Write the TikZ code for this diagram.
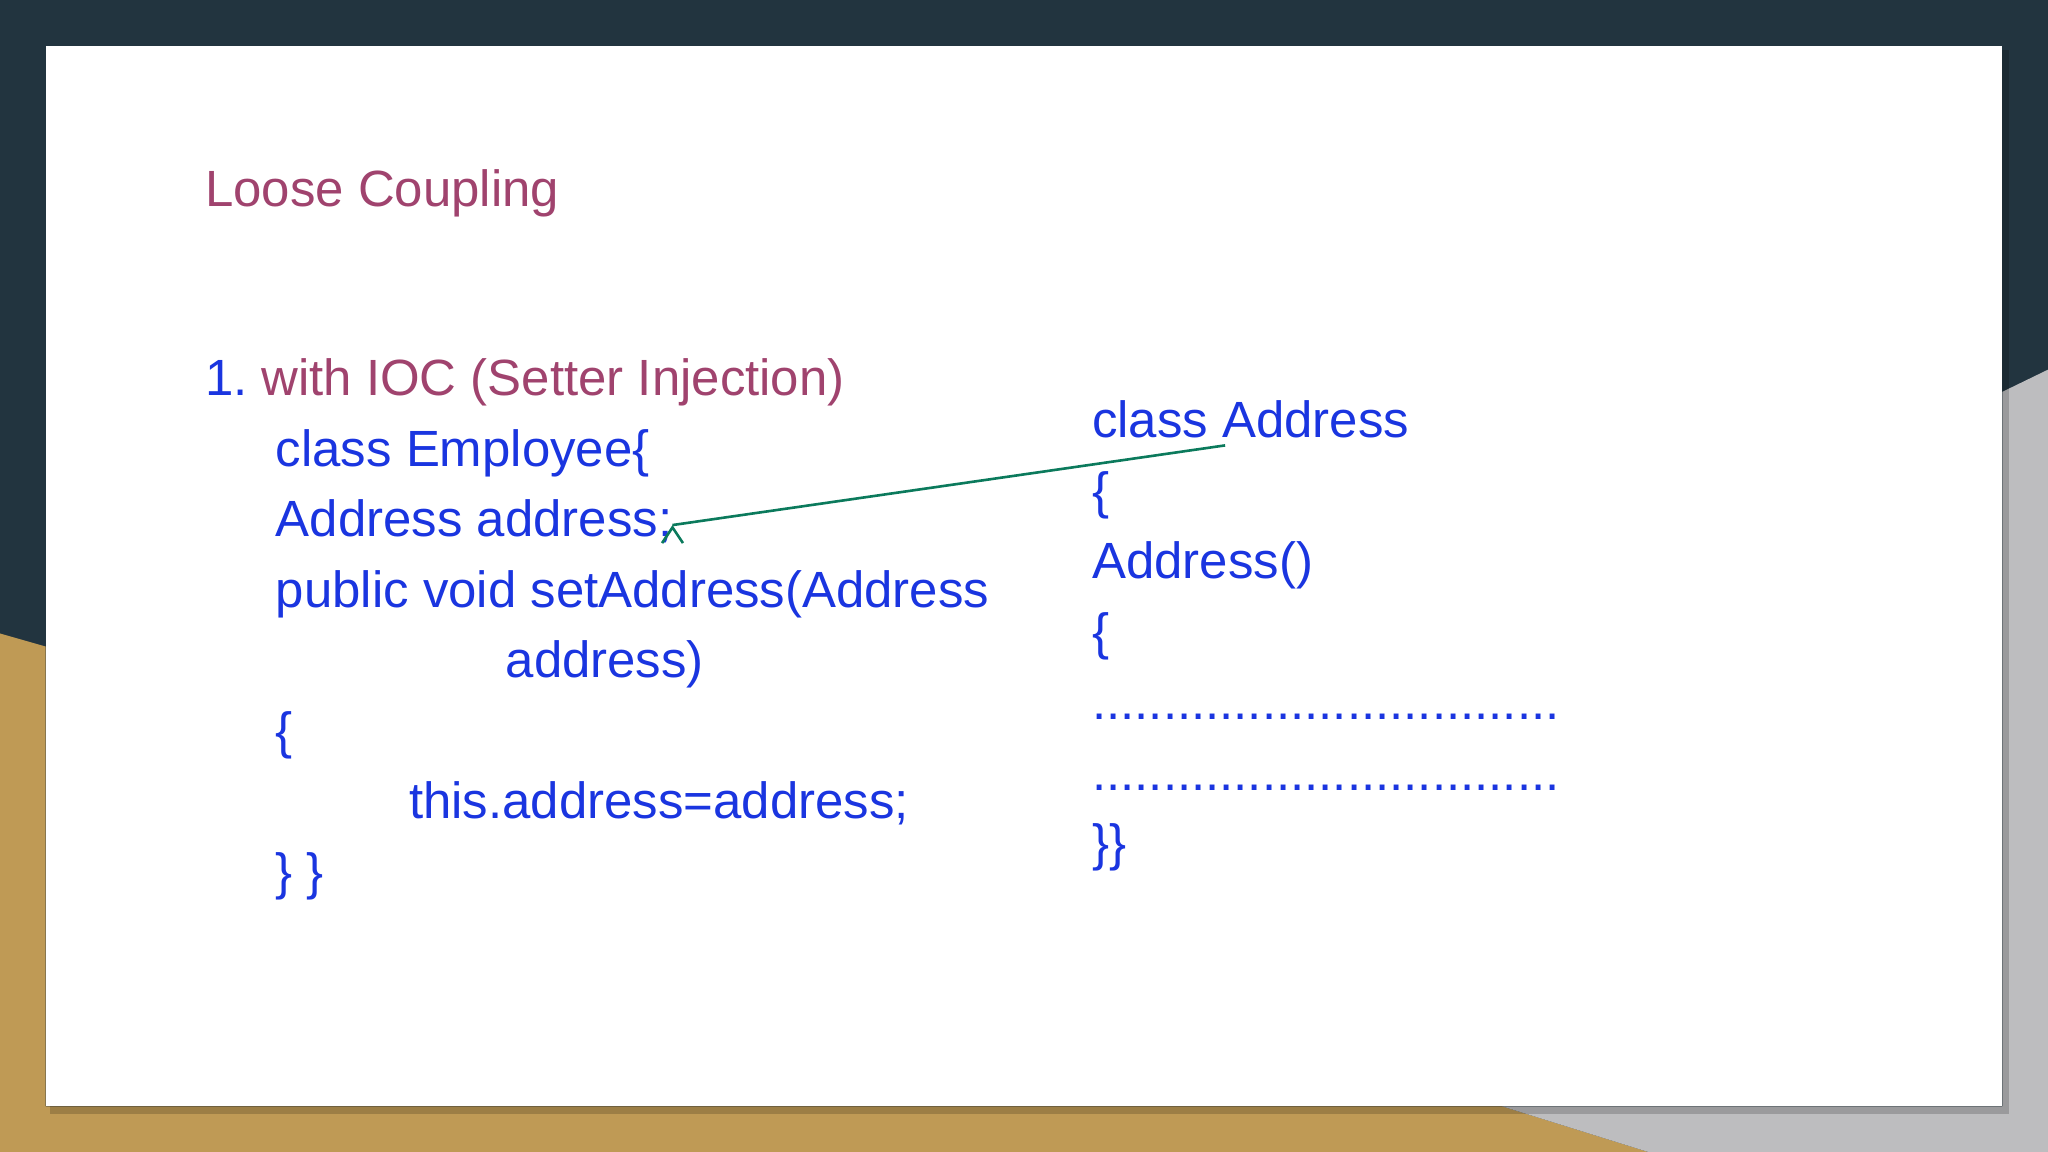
\documentclass[tikz,border=0pt]{standalone}
\usepackage{fontspec}
\setmainfont{Liberation Sans}
\usetikzlibrary{arrows.meta}
\definecolor{bgdark}{HTML}{22343F}
\definecolor{gold}{HTML}{BF9A55}
\definecolor{greyr}{HTML}{BDBDBF}
\definecolor{maroon}{HTML}{A0436E}
\definecolor{codeblue}{HTML}{1A35E0}
\definecolor{arrowgreen}{HTML}{0B7A5C}
\tikzset{
  code/.style={anchor=base west, inner sep=0pt, text=codeblue, font=\fontsize{39pt}{39pt}\selectfont},
  head/.style={anchor=base west, inner sep=0pt, text=maroon, font=\fontsize{39pt}{39pt}\selectfont},
  link/.style={draw=arrowgreen, line width=2pt, -{Straight Barb[length=12pt,width=16pt]}}
}
\begin{document}
\begin{tikzpicture}[x=1pt,y=-1pt]
\useasboundingbox (0,0) rectangle (1568,882);
\fill[bgdark] (0,0) rectangle (1568,882);
\fill[gold] (0,485) -- (35,495) -- (35,847) -- (1150,847) -- (1262,882) -- (0,882) -- cycle;
\fill[greyr] (1533,300) -- (1568,283) -- (1568,882) -- (1262,882) -- (1150,847) -- (1533,847) -- cycle;
\fill[black,opacity=0.18] (38,38) rectangle (1538,853);
\fill[white] (35,35) rectangle (1533,847);
\node[head] (title) at (157,158) {Loose Coupling};
\node[code] (one) at (157,303) {1.};
\node[head] at (200,303) {with IOC (Setter Injection)};
\node[code] (l1) at (211,357) {class Employee\{};
\node[code] (l2) at (211,411) {Address address;};
\node[code] (l3) at (211,465) {public void setAddress(Address};
\node[code] (l4) at (387,519) {address)};
\node[code] (l5) at (211,573) {\{};
\node[code] (l6) at (313,627) {this.address=address;};
\node[code] (l7) at (211,681) {\} \}};
\node[code] (r1) at (836,335) {class Address};
\node[code] (r2) at (836,389) {\{};
\node[code] (r3) at (836,443) {Address()};
\node[code] (r4) at (836,497) {\{};
\node[code] (r5) at (836,551) {.................................};
\node[code] (r6) at (836,605) {.................................};
\node[code] (r7) at (836,659) {\}\}};
\coordinate (src) at (938,341);
\draw[link] (src) -- (l2.base east |- 0,402) ++(0,0);
\end{tikzpicture}
\end{document}
